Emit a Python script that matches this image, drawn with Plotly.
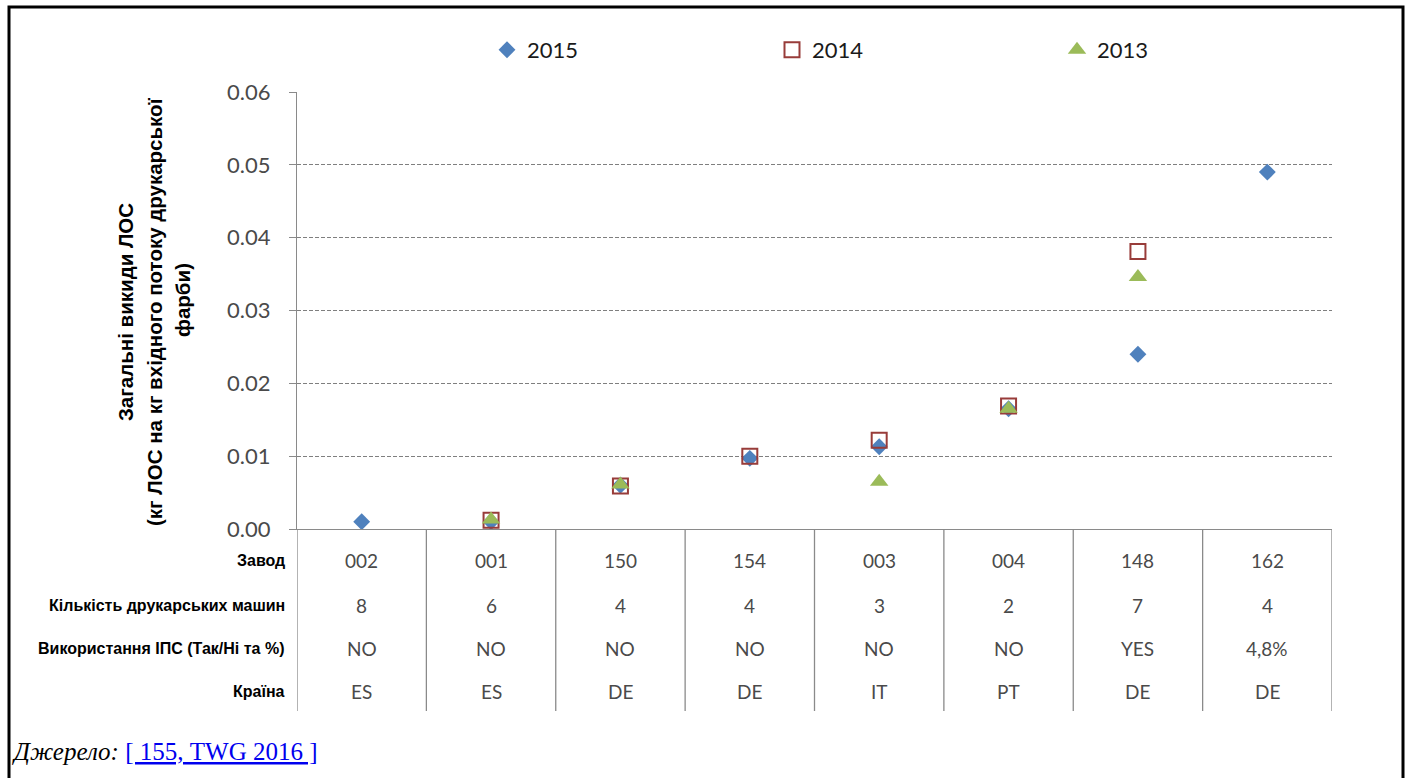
import plotly.graph_objects as go

W, H = 1407, 778

# Plants (x categories) and the table rows shown under the axis
plants = ["002", "001", "150", "154", "003", "004", "148", "162"]
presses = ["8", "6", "4", "4", "3", "2", "7", "4"]
ips_use = ["NO", "NO", "NO", "NO", "NO", "NO", "YES", "4,8%"]
country = ["ES", "ES", "DE", "DE", "IT", "PT", "DE", "DE"]
row_titles = ["Завод", "Кількість друкарських машин",
              "Використання ІПС (Так/Ні та %)", "Країна"]

# Total VOC emissions, kg VOC per kg ink input
voc_2015 = [0.001, 0.001, 0.006, 0.0097, 0.0113, 0.0165, 0.024, 0.049]
voc_2014 = [None, 0.0012, 0.0059, 0.0100, 0.0122, 0.0169, 0.0381, None]
voc_2013 = [None, 0.0013, 0.0061, None, 0.0065, 0.0165, 0.0346, None]

y_ticks = [0.0, 0.01, 0.02, 0.03, 0.04, 0.05, 0.06]
y_ticktext = ["0.00", "0.01", "0.02", "0.03", "0.04", "0.05", "0.06"]


def px(x):
    return x / W


def py(y):
    return 1 - y / H


x_idx = list(range(len(plants)))

fig = go.Figure()
fig.add_trace(go.Scatter(
    x=x_idx, y=voc_2015, name="2015", mode="markers",
    marker=dict(symbol="diamond", size=13, color="#4f81bd",
                line=dict(width=0))))
fig.add_trace(go.Scatter(
    x=x_idx, y=voc_2014, name="2014", mode="markers",
    marker=dict(symbol="square-open", size=15, color="#983c3a",
                line=dict(width=2, color="#983c3a"))))
fig.add_trace(go.Scatter(
    x=x_idx, y=voc_2013, name="2013", mode="markers",
    marker=dict(symbol="triangle-up", size=16, color="#9bbb59",
                line=dict(width=0))))

axis_gray = "#8a8a8a"
num_font = dict(family="Lato, 'Open Sans', sans-serif", size=19, color="#4a4a4a")

annotations = []
shapes = []

# Table under the plot: values per plant, row titles on the left
row_y = [560, 605, 648, 691]
rows = [plants, presses, ips_use, country]
for r, (vals, yy) in enumerate(zip(rows, row_y)):
    annotations.append(dict(
        x=px(287), y=py(yy), xref="paper", yref="paper", text=row_titles[r],
        showarrow=False, xanchor="right", yanchor="middle",
        font=dict(family="Liberation Sans, Arial, sans-serif", size=16,
                  color="#000000", weight="bold")))
    for i, v in enumerate(vals):
        annotations.append(dict(
            x=i, y=py(yy), xref="x", yref="paper", text=v, showarrow=False,
            xanchor="center", yanchor="middle", font=num_font))

# Column separators of the table
for i in range(len(plants) + 1):
    shapes.append(dict(
        type="line", xref="x", yref="paper", x0=i - 0.5, x1=i - 0.5,
        y0=py(529), y1=py(711), line=dict(color=axis_gray, width=1.3)))

# Y axis title, three centred lines
title_lines = ["Загальні викиди ЛОС",
               "(кг ЛОС на кг вхідного потоку друкарської",
               "фарби)"]
title_x = [125, 154, 182]
title_y = [312, 312, 300]
for t, xx, yy in zip(title_lines, title_x, title_y):
    annotations.append(dict(
        x=px(xx), y=py(yy), xref="paper", yref="paper", text=t,
        showarrow=False, textangle=-90, xanchor="center", yanchor="middle",
        font=dict(family="Liberation Sans, Arial, sans-serif", size=20.5,
                  color="#000000", weight="bold")))

# Source line
annotations.append(dict(
    x=px(10), y=py(751), xref="paper", yref="paper",
    text="<i>Джерело:</i> <span style='color:#0000ee'><u>[ 155, TWG 2016 ]</u></span>",
    showarrow=False, xanchor="left", yanchor="middle",
    font=dict(family="Liberation Serif, 'Times New Roman', serif", size=25,
              color="#000000")))

# Outer frame
shapes.append(dict(type="rect", xref="paper", yref="paper",
                   x0=px(9), x1=px(1403), y0=py(7), y1=py(800),
                   line=dict(color="#000000", width=3)))

fig.update_layout(
    width=W, height=H,
    margin=dict(l=0, r=0, t=0, b=0, autoexpand=False),
    paper_bgcolor="#ffffff", plot_bgcolor="#ffffff",
    showlegend=True,
    legend=dict(orientation="h", x=px(487), y=py(50), xanchor="left",
                yanchor="middle", entrywidth=240, entrywidthmode="pixels",
                font=dict(family="Lato, 'Open Sans', sans-serif", size=22,
                          color="#1a1a1a"),
                itemclick=False, bgcolor="rgba(0,0,0,0)"),
    xaxis=dict(domain=[px(297), px(1332)], range=[-0.5, 7.5],
               showgrid=False, zeroline=False, showticklabels=False,
               showline=True, linecolor=axis_gray, linewidth=1.3,
               ticks="", fixedrange=True, automargin=False),
    yaxis=dict(domain=[py(529), py(92)], range=[0, 0.06],
               tickvals=y_ticks, ticktext=y_ticktext,
               showgrid=True, gridcolor="#7f7f7f", gridwidth=1,
               griddash="4px,2px", zeroline=False,
               showline=True, linecolor=axis_gray, linewidth=1.3,
               ticks="outside", ticklen=7, tickcolor=axis_gray,
               tickfont=dict(family="Lato, 'Open Sans', sans-serif", size=22,
                             color="#4a4a4a"),
               ticklabelstandoff=14, fixedrange=True, automargin=False),
    annotations=annotations,
    shapes=shapes,
)

fig.write_html("out.html")
